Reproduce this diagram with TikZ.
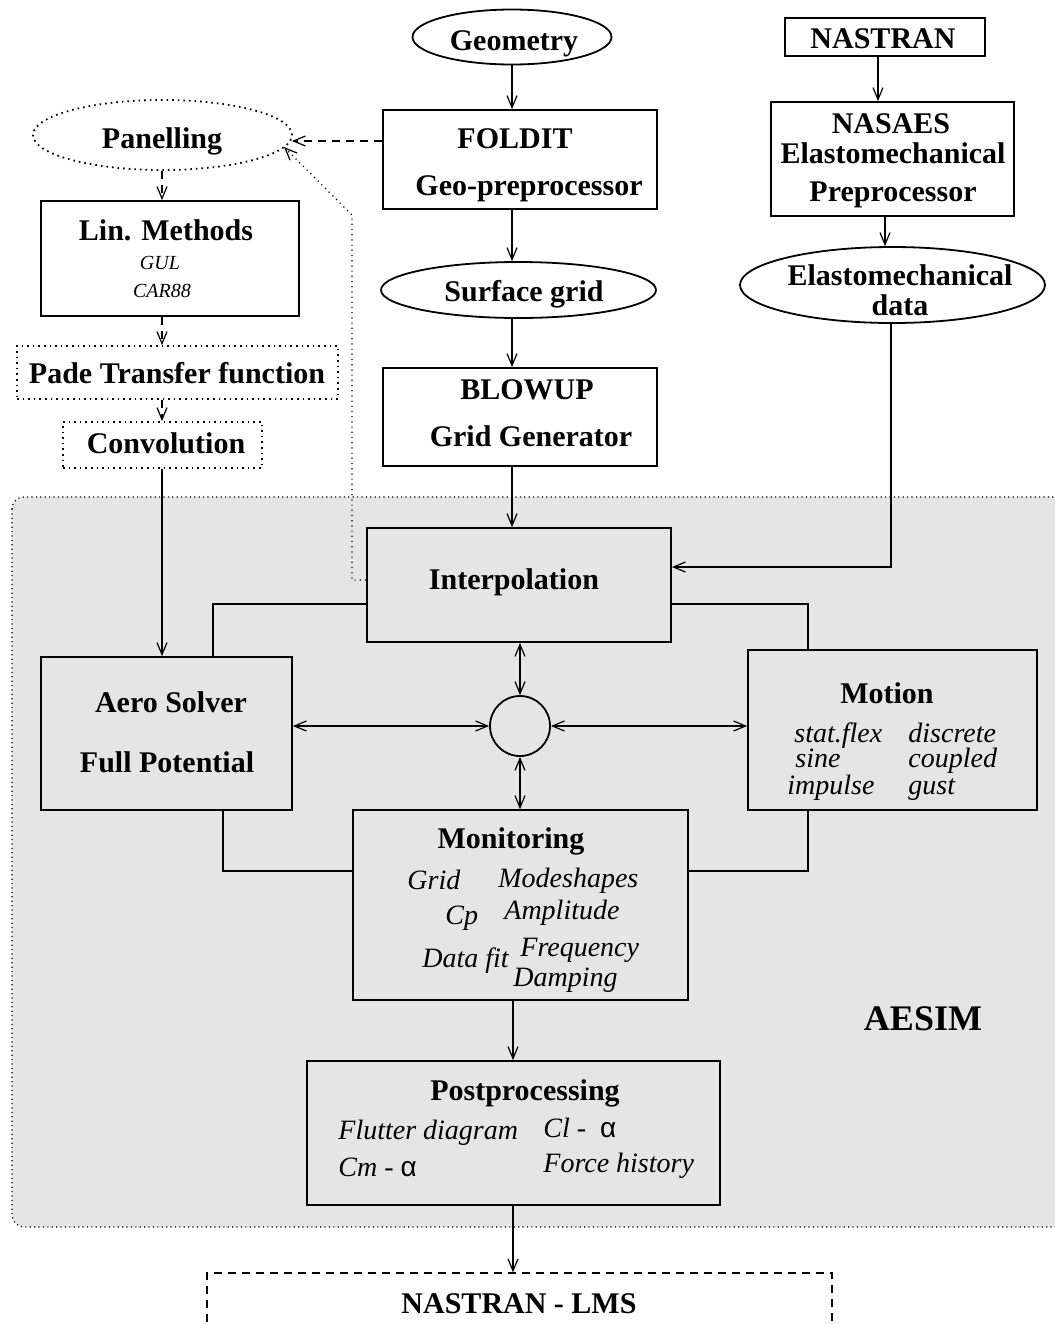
\documentclass[tikz,border=0pt]{standalone}
\usepackage{fontspec}
\setmainfont{Liberation Serif}
\newfontfamily\alfont{Liberation Sans}
\usetikzlibrary{arrows.meta,shapes.geometric,calc}
\definecolor{aesimgray}{RGB}{229,229,229}
\begin{document}
\begin{tikzpicture}[x=0.5pt,y=-0.5pt,
 shapebox/.style={draw, line width=0.9pt, inner sep=0, rectangle},
 oval/.style={draw, line width=0.9pt, ellipse, inner sep=0},
 dotline/.style={dash pattern=on 0.8pt off 2pt},
 btxt/.style={font=\fontsize{15}{15}\selectfont\bfseries, inner sep=0, text height=12pt, text depth=2pt},
 bigtxt/.style={font=\fontsize{18}{18}\selectfont\bfseries, inner sep=0, text height=14pt, text depth=2pt},
 itxt/.style={font=\fontsize{14}{14}\selectfont\itshape, inner sep=0, anchor=west, text height=11pt, text depth=2pt},
 stxt/.style={font=\fontsize{10}{10}\selectfont\itshape, inner sep=0, text height=8pt, text depth=1.5pt},
 arr/.style={line width=0.6pt, -{Straight Barb[length=6pt,width=5pt]}},
 darr/.style={line width=0.6pt, {Straight Barb[length=6pt,width=5pt]}-{Straight Barb[length=6pt,width=5pt]}},
 dasharr/.style={arr, dash pattern=on 4pt off 3pt},
 dotarr/.style={arr, dash pattern=on 0.6pt off 2pt},
 link/.style={line width=0.6pt},
]
\useasboundingbox (0,0) rectangle (1055,1324);
% AESIM region
\fill[aesimgray, rounded corners=6pt] (12,497) rectangle (1075,1227);
\draw[line width=0.6pt, dash pattern=on 0.6pt off 1.6pt, rounded corners=6pt] (12,497) rectangle (1075,1227);
\node[bigtxt] (aesimt) at (923,1018) {AESIM};

% top middle column
\node[oval, minimum width=99.5pt, minimum height=27.5pt] (geom) at (512,37) {};
\node[btxt] (geomt) at (514,40) {Geometry};
\node[shapebox, minimum width=137pt, minimum height=49.5pt] (foldit) at (520,159.5) {};
\node[btxt] (folditA) at (515,138) {FOLDIT};
\node[btxt] (folditB) at (529,185) {Geo-preprocessor};
\node[oval, minimum width=137.5pt, minimum height=28pt] (sgrid) at (518.5,290) {};
\node[btxt] (sgridt) at (524,291) {Surface grid};
\node[shapebox, minimum width=137pt, minimum height=49pt] (blowup) at (520,417) {};
\node[btxt] (blowupA) at (527,389) {BLOWUP};
\node[btxt] (blowupB) at (531,436) {Grid Generator};

% top right column
\node[shapebox, minimum width=100pt, minimum height=19pt] (nastran) at (885,37) {};
\node[btxt] (nastrant) at (883,38) {NASTRAN};
\node[shapebox, minimum width=121.5pt, minimum height=57pt] (nasaes) at (892.5,159) {};
\node[btxt] (nasaesA) at (891,123) {NASAES};
\node[btxt] (nasaesB) at (893,153) {Elastomechanical};
\node[btxt] (nasaesC) at (893,191) {Preprocessor};
\node[oval, minimum width=152.5pt, minimum height=38pt] (elasto) at (892.5,285) {};
\node[btxt] (elastoA) at (900,275) {Elastomechanical};
\node[btxt] (elastoB) at (900,305) {data};

% top left column
\node[oval, dotline, minimum width=129.5pt, minimum height=35pt] (panel) at (162.5,135) {};
\node[btxt] (panelt) at (162,138) {Panelling};
\node[shapebox, minimum width=129pt, minimum height=57.5pt] (lin) at (170,258.5) {};
\node[btxt] (linA) at (166,230) {Lin. Methods};
\node[stxt] (linB) at (160,263) {GUL};
\node[stxt] (linC) at (162,291) {CAR88};
\node[shapebox, dotline, minimum width=160.5pt, minimum height=26.5pt] (pade) at (177.5,372.5) {};
\node[btxt] (padet) at (177,373) {Pade Transfer function};
\node[shapebox, dotline, minimum width=99.5pt, minimum height=23pt] (conv) at (162.5,445) {};
\node[btxt] (convt) at (166,443) {Convolution};

% AESIM contents
\node[shapebox, minimum width=152pt, minimum height=57pt] (interp) at (519,585) {};
\node[btxt] (interpt) at (514,579) {Interpolation};
\node[shapebox, minimum width=125.5pt, minimum height=76.5pt] (aero) at (166.5,733.5) {};
\node[btxt] (aeroA) at (171,702) {Aero Solver};
\node[btxt] (aeroB) at (167,762) {Full Potential};
\node[shapebox, minimum width=144.5pt, minimum height=80pt] (motion) at (892.5,730) {};
\node[btxt] (motiont) at (887,693) {Motion};
\node[itxt] (m1) at (794,733) {stat.flex};
\node[itxt] (m2) at (795,758) {sine};
\node[itxt] (m3) at (787,785) {impulse};
\node[itxt] (m4) at (908,733) {discrete};
\node[itxt] (m5) at (908,758) {coupled};
\node[itxt] (m6) at (908,785) {gust};
\node[circle, draw, line width=0.9pt, minimum size=30pt, inner sep=0] (hub) at (520,726) {};
\node[shapebox, minimum width=167.5pt, minimum height=95pt] (monit) at (520.5,905) {};
\node[btxt] (monitt) at (511,838) {Monitoring};
\node[itxt] (g1) at (407,880) {Grid};
\node[itxt] (g2) at (498,878) {Modeshapes};
\node[itxt] (g3) at (445,915) {Cp};
\node[itxt] (g4) at (504,910) {Amplitude};
\node[itxt] (g5) at (422,958) {Data fit};
\node[itxt] (g6) at (520,947) {Frequency};
\node[itxt] (g7) at (513,977) {Damping};
\node[shapebox, minimum width=206.5pt, minimum height=72pt] (post) at (513.5,1133) {};
\node[btxt] (postt) at (525,1090) {Postprocessing};
\node[itxt] (p1) at (338,1130) {Flutter diagram};
\node[itxt] (p2) at (543,1128) {Cl -~~{\upshape\alfont α}};
\node[itxt] (p3) at (338,1167) {Cm -~{\upshape\alfont α}};
\node[itxt] (p4) at (543,1163) {Force history};

% bottom
\node[shapebox, line width=0.6pt, dash pattern=on 4pt off 3pt, minimum width=312.5pt, minimum height=33.5pt] (lms) at (519.5,1306.5) {};
\node[btxt] (lmst) at (519,1303) {NASTRAN - LMS};

% connectors
\coordinate (cx1) at (878,0);
\coordinate (cx2) at (885,0);
\coordinate (cx3) at (891,567);
\coordinate (cx4) at (213,604);
\coordinate (cx5) at (808,604);
\coordinate (cx6) at (223,871);
\coordinate (cx7) at (808,871);
\coordinate (cx8) at (162,0);
\coordinate (cx9) at (513,0);
\coordinate (cx10) at (0,141);
\coordinate (d1) at (352,580);
\coordinate (d2) at (352,215);
\coordinate (d3) at (284,147);

\draw[arr] (geom.south) -- (foldit.north -| geom.south);
\draw[arr] (foldit.south -| geom.south) -- (sgrid.north -| geom.south);
\draw[arr] (sgrid.south -| geom.south) -- (blowup.north -| geom.south);
\draw[arr] (blowup.south -| geom.south) -- (interp.north -| geom.south);
\draw[arr] (nastran.south -| cx1) -- (nasaes.north -| cx1);
\draw[arr] (nasaes.south -| cx2) -- (elasto.north -| cx2);
\draw[arr] (elasto.south -| cx3) -- (cx3) -- (interp.east |- cx3);
\draw[link] (interp.west |- cx4) -- (cx4) -- (aero.north -| cx4);
\draw[link] (interp.east |- cx5) -- (cx5) -- (motion.north -| cx5);
\draw[link] (aero.south -| cx6) -- (cx6) -- (monit.west |- cx6);
\draw[link] (motion.south -| cx7) -- (cx7) -- (monit.east |- cx7);
\draw[arr] (conv.south -| cx8) -- (aero.north -| cx8);
\draw[darr] (interp.south -| hub) -- (hub.north);
\draw[darr] (hub.south) -- (monit.north -| hub);
\draw[darr] (aero.east |- hub) -- (hub.west);
\draw[darr] (hub.east) -- (motion.west |- hub);
\draw[arr] (monit.south -| cx9) -- (post.north -| cx9);
\draw[arr] (post.south -| cx9) -- (lms.north -| cx9);
\draw[dasharr] (foldit.west |- cx10) -- ($(panel.east |- cx10)+(-1,0)$);
\draw[dasharr] (panel.south -| cx8) -- (lin.north -| cx8);
\draw[dasharr] (lin.south -| cx8) -- (pade.north -| cx8);
\draw[dasharr] (pade.south -| cx8) -- (conv.north -| cx8);
\draw[dotarr] (interp.west |- d1) -- (d1) -- (d2) -- (d3);
\end{tikzpicture}
\end{document}
